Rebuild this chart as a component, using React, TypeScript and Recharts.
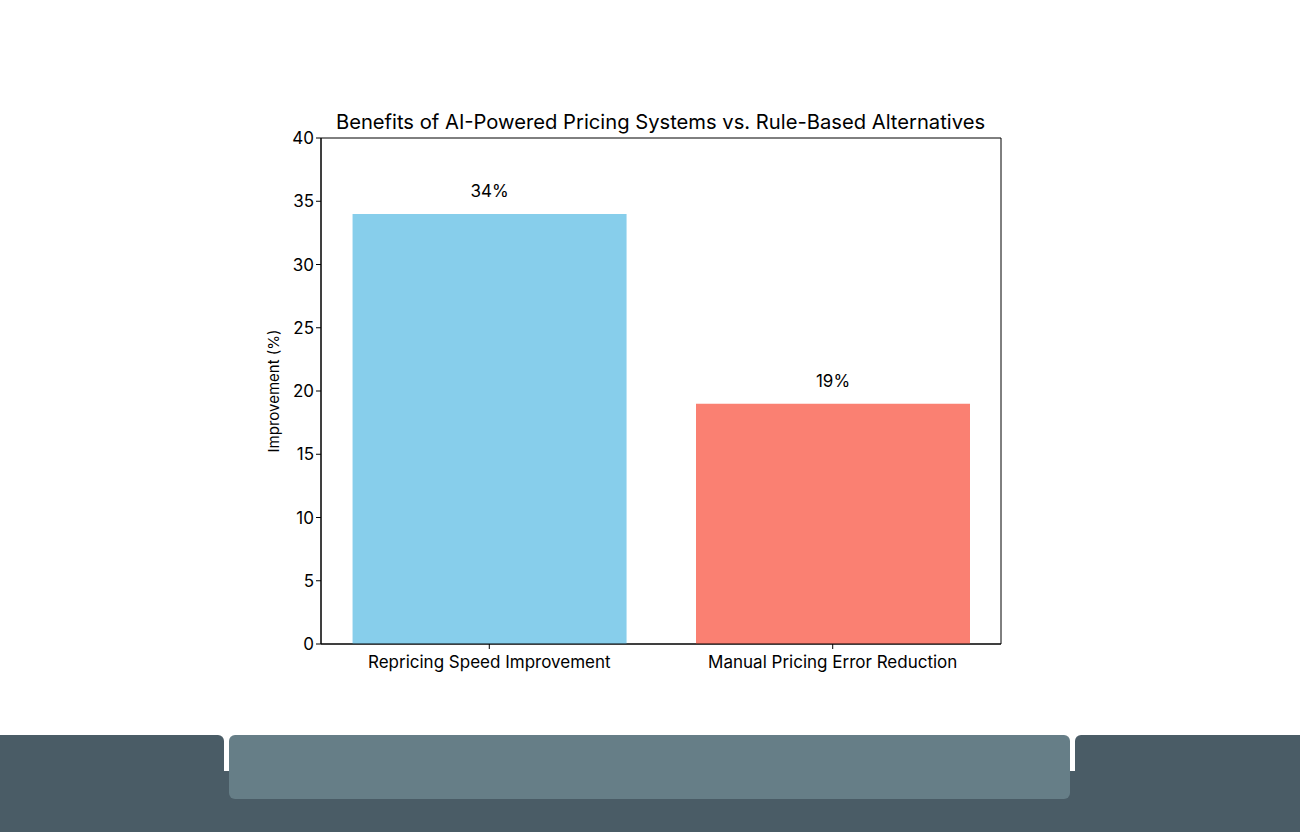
import React from 'react';
import { BarChart, Bar, XAxis, YAxis, LabelList, ReferenceArea, Cell } from 'recharts';

const categories = ['Repricing Speed Improvement', 'Manual Pricing Error Reduction'];
const values = [34, 19];
const colors = ['#87CEEB', '#FA8072'];
const yTicks = [0, 5, 10, 15, 20, 25, 30, 35, 40];
const title = 'Benefits of AI-Powered Pricing Systems vs. Rule-Based Alternatives';
const yLabel = 'Improvement (%)';

const data = categories.map((c, i) => ({ idx: i, name: c, value: values[i] }));

const FONT = 'Inter, "Noto Sans", sans-serif';

const YLabel = (props: any) => {
  const vb = props.viewBox || {};
  const cx = vb.x + 12;
  const cy = vb.y + vb.height / 2;
  return (
    <text x={cx} y={cy} transform={`rotate(-90, ${cx}, ${cy})`} textAnchor="middle" dominantBaseline="central" fontSize={15} fill="#000" fontFamily={FONT}>
      {yLabel}
    </text>
  );
};

export default function App() {
  return (
    <div style={{ position: 'absolute', left: 0, top: 0, width: 1300, height: 832, background: '#fff', overflow: 'hidden', fontFamily: FONT }}>
      <div style={{ position: 'absolute', left: 0, top: 108, width: 1321, textAlign: 'center', fontSize: 20.2, color: '#000', lineHeight: '28px' }}>{title}</div>
      <BarChart width={1300} height={832} data={data} margin={{ top: 138, right: 299, bottom: 158, left: 261 }}>
        <ReferenceArea x1={-0.49} x2={1.49} y1={0} y2={40} fill="none" stroke="#000" strokeWidth={1} ifOverflow="visible" />
        <XAxis
          dataKey="idx"
          type="number"
          domain={[-0.49, 1.49]}
          ticks={[0, 1]}
          tickFormatter={(v: number) => categories[v]}
          allowDataOverflow
          height={30}
          tickSize={5}
          stroke="#000"
          tick={{ fill: '#000', fontSize: 17, fontFamily: FONT, dy: 5 }}
          axisLine={{ stroke: '#000' }}
          tickLine={{ stroke: '#000' }}
        />
        <YAxis
          type="number"
          domain={[0, 40]}
          ticks={yTicks}
          width={60}
          tickSize={5}
          stroke="#000"
          tick={{ fill: '#000', fontSize: 17, fontFamily: FONT }}
          axisLine={{ stroke: '#000' }}
          tickLine={{ stroke: '#000' }}
          label={<YLabel />}
        />
        <Bar dataKey="value" barSize={274} isAnimationActive={false}>
          {data.map((d, i) => (
            <Cell key={d.name} fill={colors[i]} />
          ))}
          <LabelList dataKey="value" position="top" offset={17} formatter={(v: any) => `${v}%`} fill="#000" fontSize={17} fontFamily={FONT} />
        </Bar>
      </BarChart>
      <div style={{ position: 'absolute', left: 0, top: 771, width: 1300, height: 61, background: '#4a5c66' }} />
      <div style={{ position: 'absolute', left: 0, top: 735, width: 224, height: 97, background: '#4a5c66', borderTopRightRadius: 6 }} />
      <div style={{ position: 'absolute', left: 1075, top: 735, width: 225, height: 97, background: '#4a5c66', borderTopLeftRadius: 6 }} />
      <div style={{ position: 'absolute', left: 229, top: 735, width: 841, height: 64, background: '#667e87', borderRadius: 6 }} />
    </div>
  );
}
